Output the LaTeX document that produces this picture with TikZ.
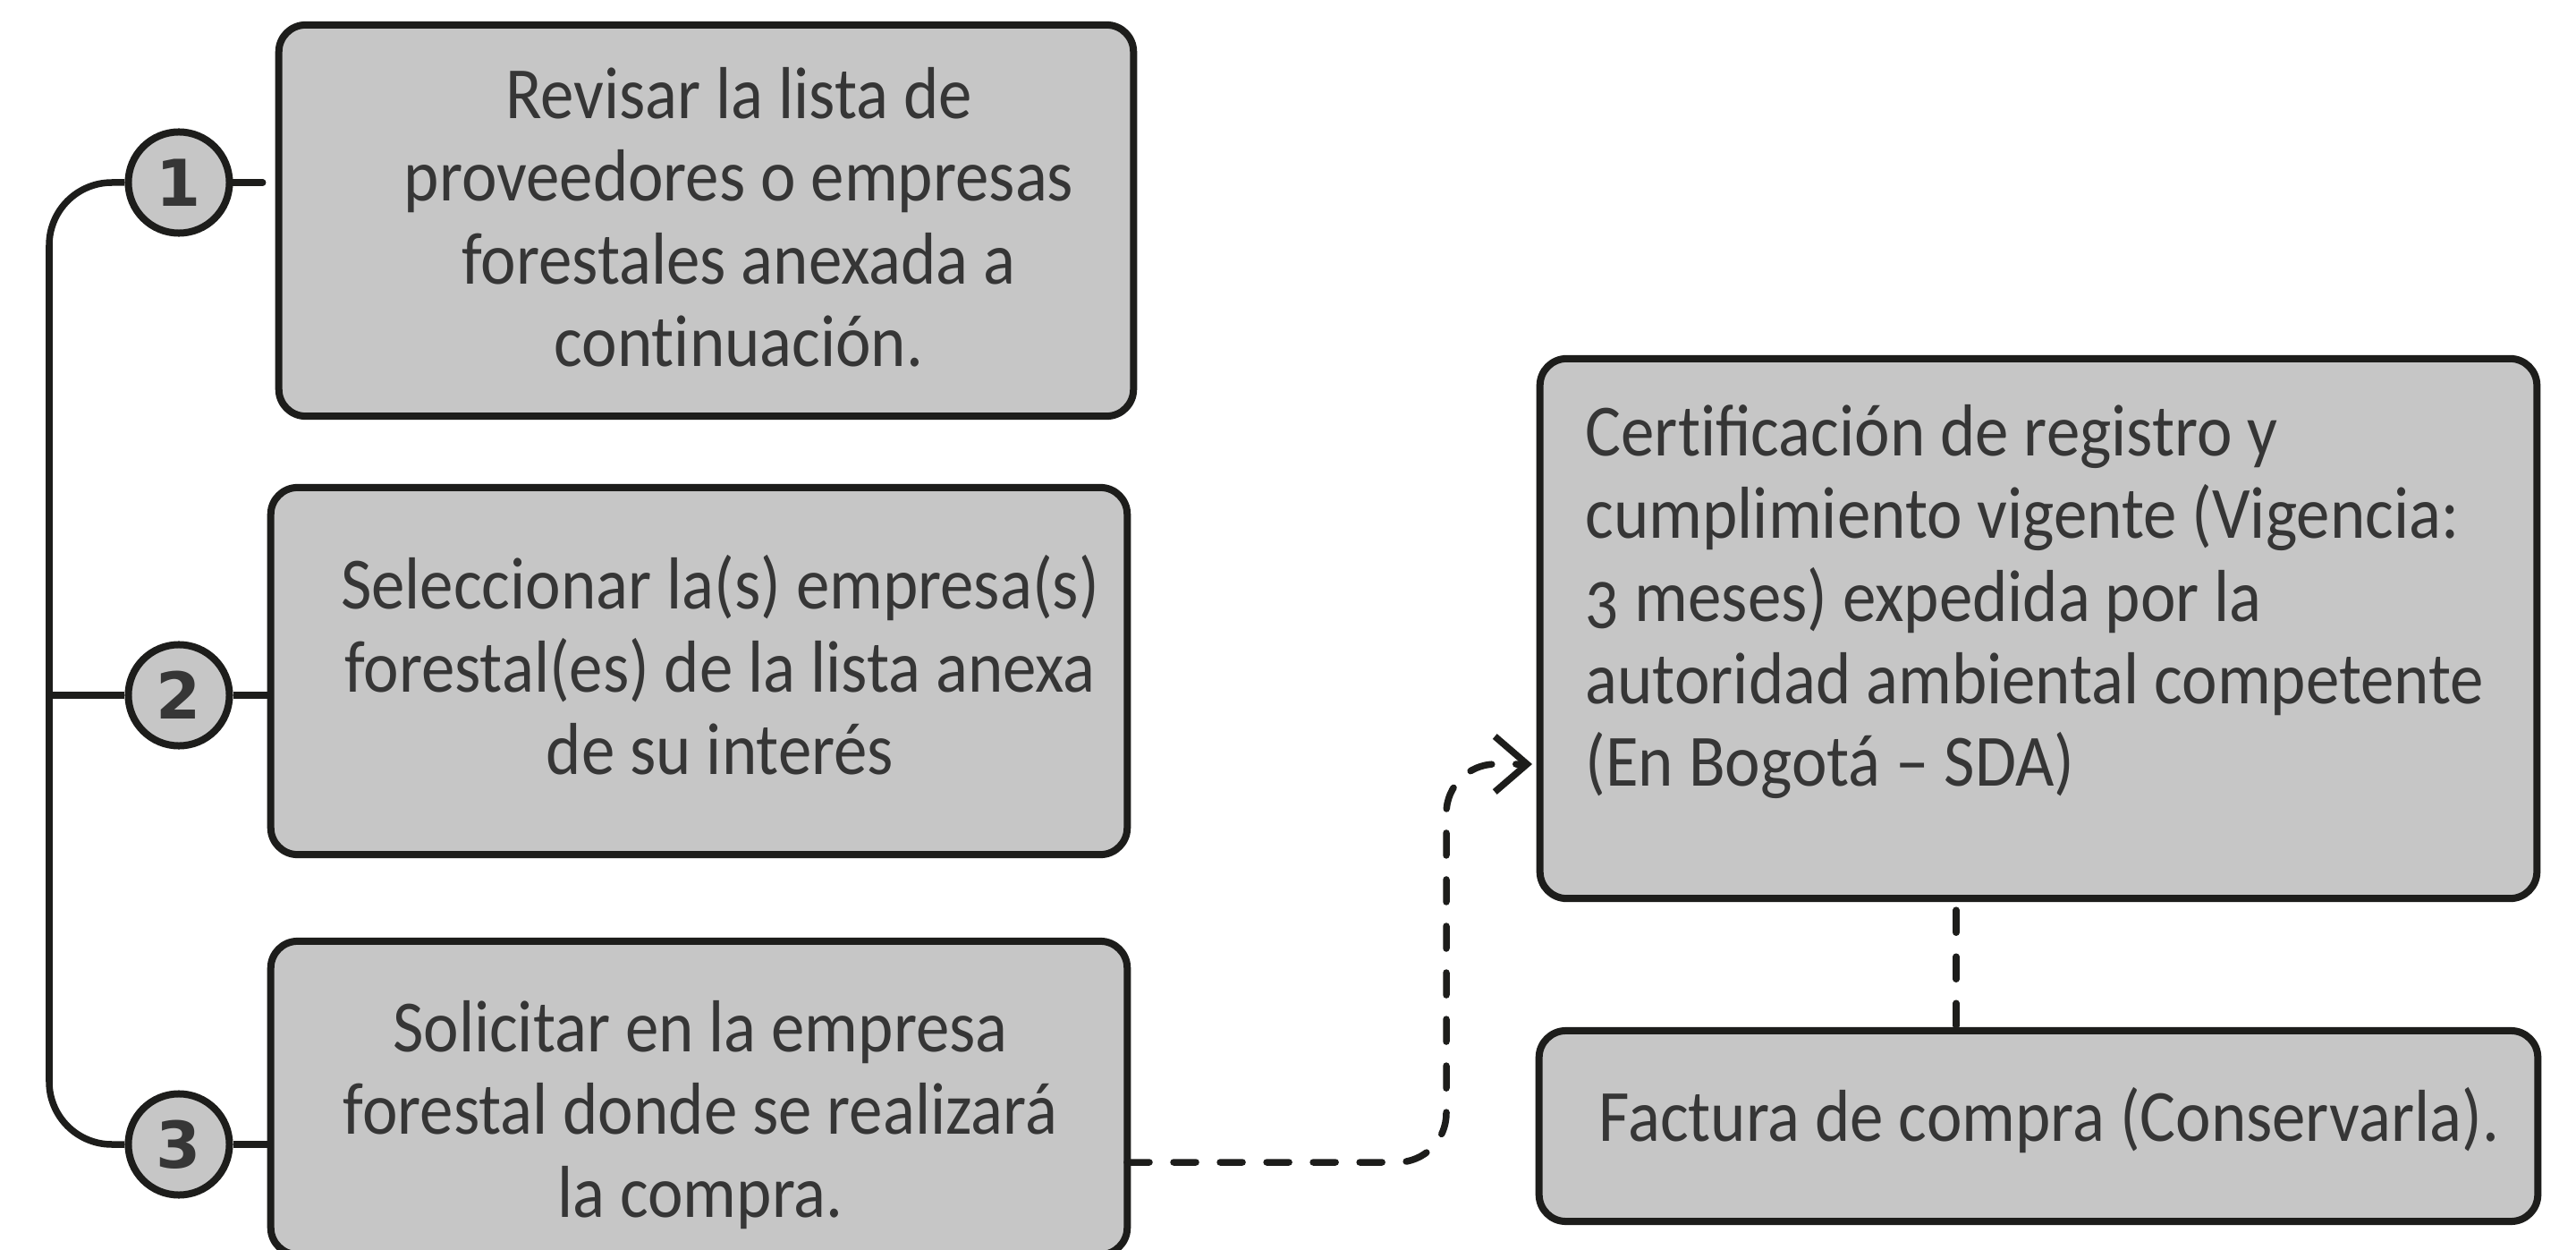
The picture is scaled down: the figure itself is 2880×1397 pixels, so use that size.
\documentclass[tikz,border=0pt]{standalone}
\usepackage{fontspec}
\setmainfont{Carlito}[Numbers=OldStyle, FakeStretch=0.91]
\newfontfamily\numfont{DejaVu Sans}
\usetikzlibrary{arrows.meta,calc}
\definecolor{lc}{HTML}{1D1D1B}
\definecolor{gfill}{HTML}{C6C6C6}
\definecolor{tc}{HTML}{363636}
\newcommand\topstrut{\rule{0pt}{0.6cm}}
\newcommand\nolig{\kern0pt{}}
\tikzset{
  stepbox/.style={rectangle, draw=lc, fill=gfill, line width=0.08cm, rounded corners=0.3cm, inner sep=0pt},
  numcirc/.style={circle, draw=lc, fill=gfill, line width=0.08cm, minimum size=1.13cm, inner sep=0pt, text=tc, font=\numfont\bfseries\fontsize{20.5}{20.5}\selectfont},
  btext/.style={anchor=north, inner sep=0pt, text=tc, font=\fontsize{23.4}{26.2}\selectfont},
  conn/.style={draw=lc, line width=0.075cm},
  dashconn/.style={draw=lc, line width=0.075cm, line cap=round, dash pattern=on 0.25cm off 0.27cm},
}
\begin{document}
\begin{tikzpicture}[x=0.01cm, y=-0.01cm]
\useasboundingbox[fill=white] (0,0) rectangle (2880,1397);
% boxes
\node[stepbox, minimum width=9.55cm, minimum height=4.37cm] (b1) at (789.5,246.5) {};
\node[stepbox, minimum width=9.57cm, minimum height=4.10cm] (b2) at (781.5,750) {};
\node[stepbox, minimum width=9.57cm, minimum height=3.50cm] (b3) at (781.5,1227) {};
\node[stepbox, minimum width=11.14cm, minimum height=6.03cm] (r1) at (2279,702.5) {};
\node[stepbox, minimum width=11.16cm, minimum height=2.13cm] (r2) at (2279,1258.5) {};
% texts
\node[btext, align=center] (t1) at (826,72) {\topstrut Revisar la lista de\\proveedores o empresas\\forestales anexada a\\cont\nolig inuación.};
\node[btext, align=center] (t2) at (805,620) {\topstrut Seleccionar la(s) empresa(s)\\forestal(es) de la lista anexa\\de su interés};
\node[btext, align=center] (t3) at (783,1115) {\topstrut Solicitar en la empresa\\forestal donde se realizará\\la compra.};
\node[btext, align=left, anchor=north west] (t4) at (1772,449) {\topstrut Cert\nolig ificación de registro y\\cumplimiento vigente (Vigencia:\\3 meses) expedida por la\\autoridad ambiental competente\\(En Bogotá -- SDA)};
\node[btext, align=left, anchor=north west] (t5) at (1787,1215) {\topstrut Factura de compra (Conservarla).};
% circles
\node[numcirc] (c1) at (200,204) {1};
\node[numcirc] (c2) at (200,777) {2};
\node[numcirc] (c3) at (200,1279) {3};
% coordinates
\coordinate (spine2) at (55,777);
\coordinate (dstart) at (1260,1299);
\coordinate (dbend1) at (1617,1299);
\coordinate (dbend2) at (1617,854);
\coordinate (dend) at (1721,854);
\coordinate (vx) at (2187,0);
% bracket connectors
\draw[conn, rounded corners=0.7cm] (c1.west) -- (55,204) -- (55,1279) -- (c3.west);
\draw[conn] (spine2) -- (c2.west);
\draw[conn, line cap=round, shorten >=0.14cm] (c1.east) -- (c1.east -| b1.west);
\draw[conn] (c2.east) -- (c2.east -| b2.west);
\draw[conn] (c3.east) -- (c3.east -| b3.west);
% dashed arrow
\draw[dashconn, rounded corners=0.55cm, shorten >=0.08cm, -{Straight Barb[length=0.36cm,width=0.62cm,line cap=butt]}]
  (dstart) -- (dbend1) -- (dbend2) -- (dend);
% dashed link between right boxes
\draw[dashconn, dash phase=-0.09cm] (r1.south -| vx) -- (r2.north -| vx);
\end{tikzpicture}
\end{document}
